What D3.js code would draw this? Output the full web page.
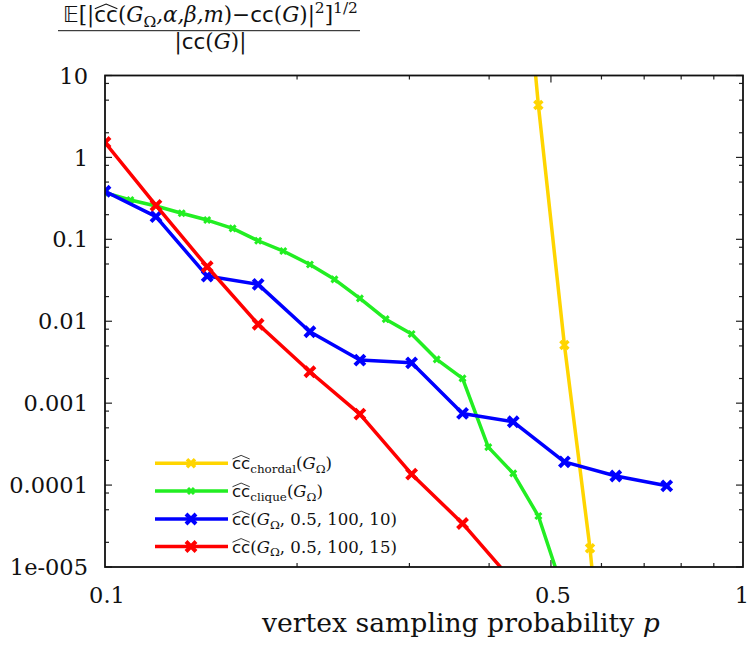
<!DOCTYPE html>
<html>
<head>
<meta charset="utf-8">
<script src="https://cdn.jsdelivr.net/npm/d3@7"></script>
<style>
  html, body { margin: 0; padding: 0; background: #fff; }
  svg { display: block; }
  .serif { font-family: "DejaVu Serif", "Liberation Serif", "Noto Serif", serif; }
  .sans { font-family: "DejaVu Sans", "Liberation Sans", sans-serif; }
</style>
</head>
<body>
<svg id="chart" width="750" height="646"></svg>
<script>
// Sampling probabilities (two interleaved grids) and relative RMS errors
const pFine = [0.1, 0.1096, 0.1202, 0.1319, 0.1446, 0.1585, 0.1738, 0.1903, 0.2095, 0.2289,
               0.2509, 0.2754, 0.3024, 0.3311, 0.3634, 0.3988, 0.4364, 0.4778, 0.5249];
const pCoarse = [0.1, 0.1202, 0.1446, 0.1738, 0.2095, 0.2509, 0.3024, 0.3634, 0.4364, 0.5249, 0.6318, 0.7594];
const pChordal = [0.4364, 0.4778, 0.5249, 0.5757, 0.6318];

const errChordal = [9000, 4.36, 0.00513, 0.0000169, 1e-8];
const errClique = [0.371, 0.302, 0.255, 0.208, 0.172, 0.136, 0.0961, 0.0720, 0.0493, 0.0325,
                   0.0190, 0.0106, 0.00698, 0.00343, 0.00201, 0.000291, 0.000139, 0.0000419, 0.0000046];
const errM10 = [0.386, 0.189, 0.0356, 0.0282, 0.00745, 0.00336, 0.00311, 0.000750, 0.000593, 0.000192, 0.000129, 0.0000980];
const errM15 = [1.52, 0.26, 0.0463, 0.0092, 0.00242, 0.000736, 0.000136, 0.0000340, 0.0000066];

const xTickLabels = ["0.1", "0.5", "1"];
const xTickValues = [0.1, 0.5, 1];
const yTickLabels = ["1e-005", "0.0001", "0.001", "0.01", "0.1", "1", "10"];
const yTickValues = [1e-5, 1e-4, 1e-3, 1e-2, 1e-1, 1, 10];

const series = [
  { xs: pChordal, ys: errChordal, color: "#ffd500", mark: 4, mw: 3.5,
    label: [{ t: "cc", f: "sans", hat: true }, { t: "chordal", f: "serif", s: 0.72, dy: 4 },
            { t: "(", f: "serif" }, { t: "G", f: "it" }, { t: "Ω", f: "serif", s: 0.72, dy: 4 }, { t: ")", f: "serif" }] },
  { xs: pFine, ys: errClique, color: "#22ee22", mark: 3, mw: 3,
    label: [{ t: "cc", f: "sans", hat: true }, { t: "clique", f: "serif", s: 0.72, dy: 4 },
            { t: "(", f: "serif" }, { t: "G", f: "it" }, { t: "Ω", f: "serif", s: 0.72, dy: 4 }, { t: ")", f: "serif" }] },
  { xs: pCoarse, ys: errM10, color: "#0000ff", mark: 5, mw: 4,
    label: [{ t: "cc", f: "sans", hat: true }, { t: "(", f: "serif" }, { t: "G", f: "it" },
            { t: "Ω", f: "serif", s: 0.72, dy: 4 }, { t: ", 0.5, 100, 10)", f: "serif" }] },
  { xs: pCoarse, ys: errM15, color: "#ff0000", mark: 5, mw: 4,
    label: [{ t: "cc", f: "sans", hat: true }, { t: "(", f: "serif" }, { t: "G", f: "it" },
            { t: "Ω", f: "serif", s: 0.72, dy: 4 }, { t: ", 0.5, 100, 15)", f: "serif" }] }
];

const svg = d3.select("#chart");
const L = 105, R = 743, T = 75.5, B = 567;

const x = d3.scaleLog().domain([0.1, 1]).range([L, R]);
const y = d3.scaleLog().domain([1e-5, 10]).range([B, T]);

// Font size at which a string in a given class reaches a target width
function fitSize(str, cls, target) {
  const t = svg.append("text").attr("class", cls).attr("font-size", 100).text(str);
  const w = t.node().getComputedTextLength();
  t.remove();
  return 100 * target / w;
}
const tickSize = 22.5;
const xTitleSize = Math.min(28, fitSize("vertex sampling probability p", "serif", 398));

// Lays out a run of differently styled text pieces one after another.
function layoutPieces(grp, pieces, size) {
  let cx = 0;
  pieces.forEach(p => {
    const fs = size * (p.s || 1);
    const t = grp.append("text")
      .attr("class", p.f === "sans" ? "sans" : "serif")
      .attr("x", cx).attr("y", (p.dy || 0) * size / 19)
      .attr("font-size", fs)
      .attr("font-style", p.f === "it" ? "italic" : "normal")
      .attr("fill", "#111")
      .text(p.t);
    const w = t.node().getComputedTextLength();
    if (p.hat) {
      const top = (p.dy || 0) - fs * 0.62;
      grp.append("path")
        .attr("d", `M${cx + 0.5},${top} L${cx + w / 2},${top - fs * 0.22} L${cx + w - 0.5},${top}`)
        .attr("fill", "none").attr("stroke", "#111").attr("stroke-width", Math.max(0.8, fs * 0.05));
    }
    cx += w;
  });
  return cx;
}
function mathText(g, x0, y0, pieces, size, anchor, target) {
  const grp = g.append("g");
  let w = layoutPieces(grp, pieces, size);
  if (target) {
    grp.selectAll("*").remove();
    size = size * target / w;
    w = layoutPieces(grp, pieces, size);
  }
  const off = anchor === "middle" ? -w / 2 : anchor === "end" ? -w : 0;
  grp.attr("transform", `translate(${x0 + off},${y0})`);
  return size;
}

// Clip region for the data
svg.append("clipPath").attr("id", "plotclip")
  .append("rect").attr("x", L).attr("y", T).attr("width", R - L).attr("height", B - T);

// Ticks on all four sides, pointing inward
const ticks = svg.append("g").attr("stroke", "#222").attr("stroke-width", 1.2);
const xMinor = d3.range(2, 10).map(k => k / 10);
xMinor.forEach(v => {
  const len = xTickValues.includes(v) ? 7 : 4;
  ticks.append("line").attr("x1", x(v)).attr("x2", x(v)).attr("y1", B).attr("y2", B - len);
  ticks.append("line").attr("x1", x(v)).attr("x2", x(v)).attr("y1", T).attr("y2", T + len);
});
const yMinor = [];
yTickValues.slice(0, -1).forEach(d => [2, 5, 8].forEach(k => yMinor.push(d * k)));
yTickValues.forEach(v => {
  ticks.append("line").attr("x1", L).attr("x2", L + 7).attr("y1", y(v)).attr("y2", y(v));
  ticks.append("line").attr("x1", R).attr("x2", R - 7).attr("y1", y(v)).attr("y2", y(v));
});
yMinor.forEach(v => {
  ticks.append("line").attr("x1", L).attr("x2", L + 4).attr("y1", y(v)).attr("y2", y(v));
  ticks.append("line").attr("x1", R).attr("x2", R - 4).attr("y1", y(v)).attr("y2", y(v));
});

// Tick labels
svg.append("g").selectAll("text").data(yTickValues).join("text")
  .attr("class", "serif")
  .attr("x", 88).attr("y", d => y(d) + tickSize * 0.36)
  .attr("text-anchor", "end")
  .attr("font-size", tickSize).attr("fill", "#111")
  .text((d, i) => yTickLabels[i]);
svg.append("g").selectAll("text").data(xTickValues).join("text")
  .attr("class", "serif")
  .attr("x", d => x(d) + (d === 1 ? -1 : 2)).attr("y", 603)
  .attr("text-anchor", "middle")
  .attr("font-size", tickSize).attr("fill", "#111")
  .text((d, i) => xTickLabels[i]);

// Series lines and cross markers
const line = d3.line().x(d => x(d[0])).y(d => y(d[1]));
const plot = svg.append("g").attr("clip-path", "url(#plotclip)");
function cross(g, cx, cy, r, color, w) {
  g.append("path")
    .attr("d", `M${cx - r},${cy - r}L${cx + r},${cy + r}M${cx - r},${cy + r}L${cx + r},${cy - r}`)
    .attr("stroke", color).attr("stroke-width", w).attr("fill", "none");
}
series.forEach(s => {
  const pts = s.xs.map((v, i) => [v, s.ys[i]]);
  plot.append("path").datum(pts).attr("d", line)
    .attr("fill", "none").attr("stroke", s.color).attr("stroke-width", 3.5)
    .attr("stroke-linejoin", "round");
  pts.forEach(p => cross(plot, x(p[0]), y(p[1]), s.mark, s.color, s.mw));
});

// Frame
svg.append("rect").attr("x", L).attr("y", T).attr("width", R - L).attr("height", B - T)
  .attr("fill", "none").attr("stroke", "#111").attr("stroke-width", 1.8);

// Legend: entries share the size that makes the third label 165px wide
const legY = [463.3, 491, 519, 546.5];
const leg = svg.append("g");
const probe = svg.append("g");
const legSize = mathText(probe, 0, 0, series[2].label, 18, "start", 165);
probe.remove();
series.forEach((s, i) => {
  leg.append("line").attr("x1", 155).attr("x2", 228).attr("y1", legY[i]).attr("y2", legY[i])
    .attr("stroke", s.color).attr("stroke-width", 3.5);
  cross(leg, 191, legY[i], s.mark, s.color, s.mw);
  mathText(leg, 232, legY[i] + 6, s.label, legSize, "start");
});

// Axis title (x)
svg.append("text")
  .attr("class", "serif")
  .attr("x", 262).attr("y", 632)
  .attr("font-size", xTitleSize).attr("fill", "#111")
  .call(t => {
    t.append("tspan").text("vertex sampling probability ");
    t.append("tspan").attr("font-style", "italic").text("p");
  });

// Axis title (y) as a fraction at the top
const ttl = svg.append("g");
const num = [
  { t: "𝔼", f: "sans" }, { t: "[|", f: "serif" }, { t: "cc", f: "sans", hat: true },
  { t: "(", f: "serif" }, { t: "G", f: "it" }, { t: "Ω", f: "serif", s: 0.72, dy: 4 },
  { t: ",α,β,m", f: "it" }, { t: ")−", f: "serif" }, { t: "cc", f: "sans" },
  { t: "(", f: "serif" }, { t: "G", f: "it" }, { t: ")|", f: "serif" },
  { t: "2", f: "serif", s: 0.72, dy: -8 }, { t: "]", f: "serif" }, { t: "1/2", f: "serif", s: 0.72, dy: -8 }
];
const den = [
  { t: "|", f: "serif" }, { t: "cc", f: "sans" }, { t: "(", f: "serif" }, { t: "G", f: "it" }, { t: ")|", f: "serif" }
];
const numSize = mathText(ttl, 210.5, 22, num, 19, "middle", 295);
mathText(ttl, 210.5, 49, den, numSize, "middle");
ttl.append("line").attr("x1", 58).attr("x2", 360).attr("y1", 30.7).attr("y2", 30.7)
  .attr("stroke", "#111").attr("stroke-width", 1);
</script>
</body>
</html>
